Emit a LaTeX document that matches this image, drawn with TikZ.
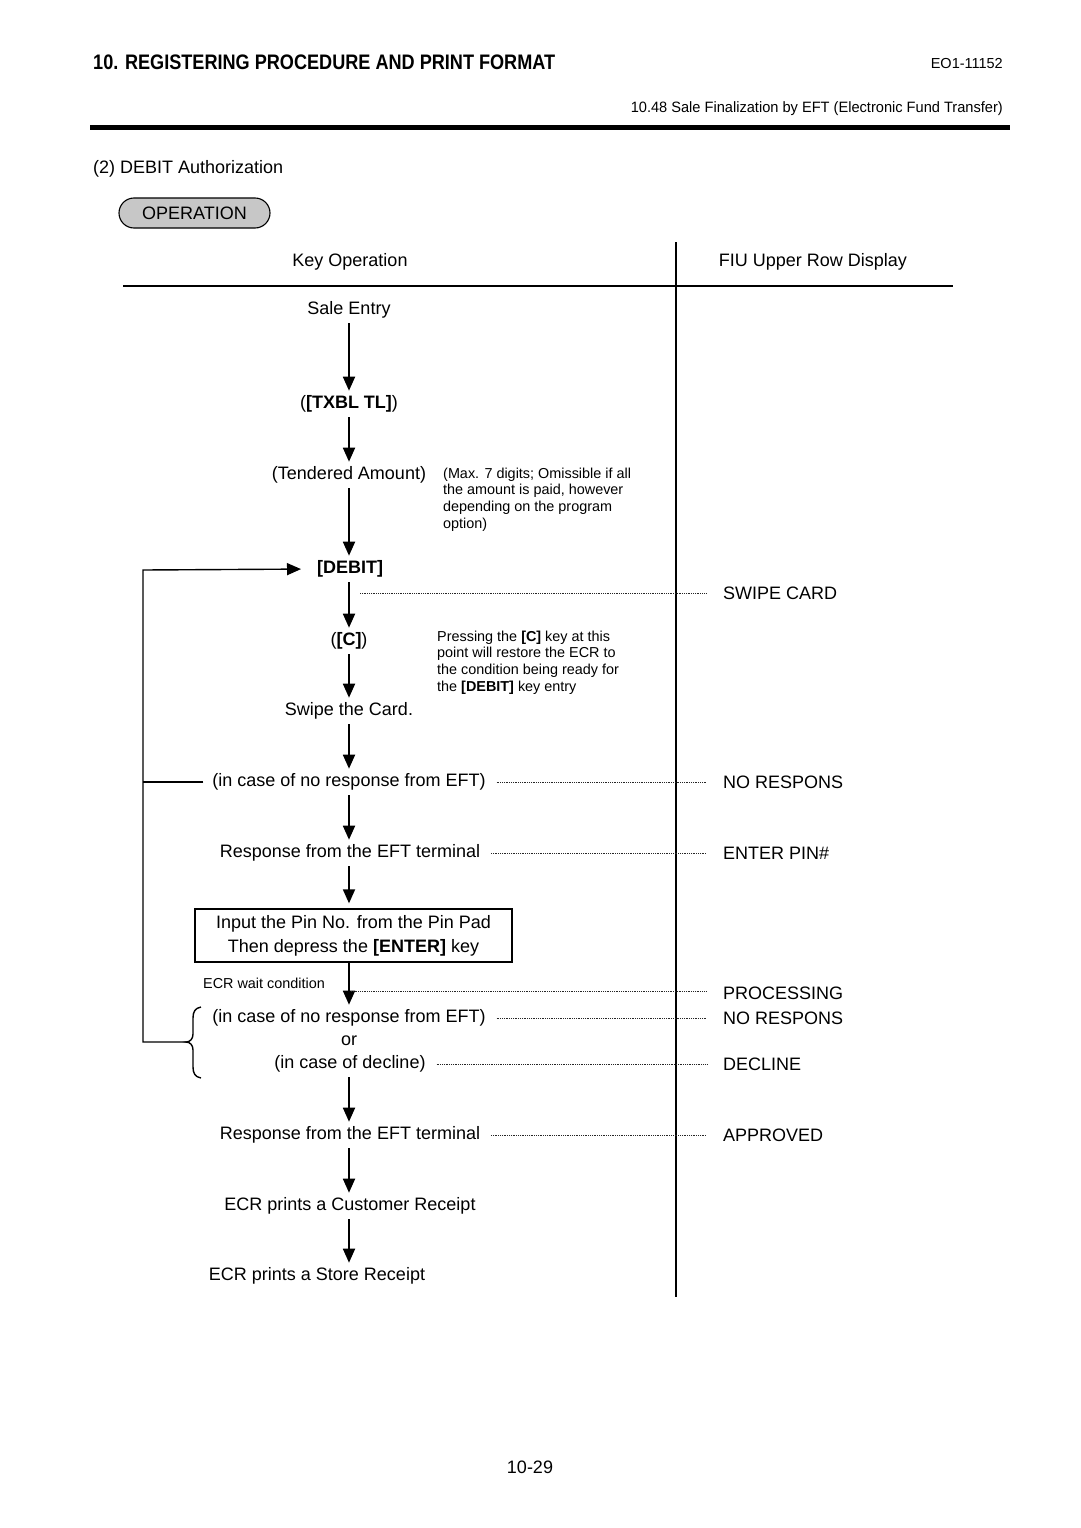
\documentclass[tikz,border=0pt]{standalone}
\usepackage{fontspec}
\setmainfont{Liberation Sans}
\usetikzlibrary{arrows.meta}
\begin{document}
\begin{tikzpicture}[x=1pt,y=-1pt,
  big/.style={font=\fontsize{18}{21.6}\selectfont},
  small/.style={font=\fontsize{14.4}{16.7}\selectfont},
  ktext/.style={big, text height=12.8pt, text depth=3.8pt, inner xsep=3pt, inner ysep=5pt, outer sep=0pt},
  lbl/.style={big, anchor=west, inner xsep=4pt, inner ysep=2pt},
  note/.style={small, anchor=north west, align=left, inner sep=0pt},
  arr/.style={line width=1.8pt, -{Triangle[width=12pt,length=14pt]}},
  dot/.style={line width=0.7pt, black!85, dash pattern=on 0.9pt off 0.9pt, shorten <=8pt, shorten >=12pt},
  rule/.style={line width=1.8pt}]
\useasboundingbox (0,0) rectangle (1080,1528);

% header
\node[anchor=base west, inner sep=0pt] (hdr) at (93,69.5)
  {\resizebox{462pt}{\height}{\bfseries\fontsize{21}{25}\selectfont 10. REGISTERING PROCEDURE AND PRINT FORMAT}};
\node[anchor=base east, inner sep=0pt, font=\fontsize{14.5}{17}\selectfont] (doc) at (1003,68) {EO1-11152};
\node[anchor=base east, inner sep=0pt] (sub) at (1003,112)
  {\resizebox{372pt}{\height}{\fontsize{15}{18}\selectfont 10.48 Sale Finalization by EFT (Electronic Fund Transfer)}};
\coordinate (r1) at (90,127);
\coordinate (r2) at (1010,127);
\draw[line width=5pt] (r1) -- (r2);

\node[big, anchor=base west, inner sep=0pt] (title) at (93,173.5) {(2) DEBIT Authorization};
\node[big, draw, line width=1.1pt, fill=black!22, rounded corners=15pt, minimum width=151pt, minimum height=30pt, inner sep=0pt] (op) at (194.5,213) {OPERATION};

% table frame
\node[big] (kop) at (350,262) {Key Operation};
\node[big] (fiu) at (813,262) {FIU Upper Row Display};
\coordinate (v1) at (676,242);
\coordinate (v2) at (676,1297);
\coordinate (h1) at (123,286);
\coordinate (h2) at (953,286);
\draw[rule] (v1) -- (v2);
\draw[rule] (h1) -- (h2);

% main flow
\node[ktext] (sale) at (349,310) {Sale Entry};
\node[ktext] (txbl) at (349,404) {(\textbf{[TXBL TL]})};
\node[ktext] (tend) at (349,475) {(Tendered Amount)};
\node[ktext] (debit) at (350,569) {\textbf{[DEBIT]}};
\node[ktext] (ckey) at (349,641) {(\textbf{[C]})};
\node[ktext] (swipe) at (349,711) {Swipe the Card.};
\node[ktext] (nr1) at (349,782) {(in case of no response from EFT)};
\node[ktext] (resp1) at (350,853) {Response from the EFT terminal};
\node[big, draw, line width=1.3pt, minimum width=317pt, minimum height=53pt, align=center, inner sep=0pt] (pin) at (353.5,935.5)
  {Input the Pin No. from the Pin Pad\\[2.4pt]Then depress the \textbf{[ENTER]} key};
\node[ktext] (nr2) at (349,1018) {(in case of no response from EFT)};
\node[ktext] (or) at (349,1041) {or};
\node[ktext] (decl) at (350,1064) {(in case of decline)};
\node[ktext] (resp2) at (350,1135) {Response from the EFT terminal};
\node[ktext] (cust) at (350,1206) {ECR prints a Customer Receipt};
\node[ktext] (store) at (317,1276) {ECR prints a Store Receipt};

\draw[arr] (sale.south) -- (sale.south |- txbl.north);
\draw[arr] (txbl.south) -- (txbl.south |- tend.north);
\draw[arr] (tend.south) -- (tend.south |- debit.north);
\draw[arr] (debit.south -| tend.south) -- (tend.south |- ckey.north);
\draw[arr] (ckey.south) -- (ckey.south |- swipe.north);
\draw[arr] (swipe.south) -- (swipe.south |- nr1.north);
\draw[arr] (nr1.south) -- (nr1.south |- resp1.north);
\draw[arr, shorten >=5pt] (resp1.south -| nr1.south) -- (nr1.south |- pin.north);
\draw[arr] (pin.south -| nr1.south) -- (nr1.south |- nr2.north);
\draw[arr] (decl.south -| nr1.south) -- (nr1.south |- resp2.north);
\draw[arr] (resp2.south -| nr1.south) -- (nr1.south |- cust.north);
\draw[arr] (cust.south -| nr1.south) -- (nr1.south |- store.north);

% notes
\node[note] (n1) at (443,467.5) {(Max. 7 digits; Omissible if all\\the amount is paid, however\\depending on the program\\option)};
\node[note] (n2) at (437,630.5) {Pressing the \textbf{[C]} key at this\\point will restore the ECR to\\the condition being ready for\\the \textbf{[DEBIT]} key entry};
\node[small, anchor=base west, inner sep=0pt] (wait) at (203,988.5) {ECR wait condition};

% display labels
\node[lbl] (lsw) at (719,593) {SWIPE CARD};
\node[lbl] (lnr1) at (719,782) {NO RESPONS};
\node[lbl] (lpin) at (719,853) {ENTER PIN\#};
\node[lbl] (lproc) at (719,993) {PROCESSING};
\node[lbl] (lnr2) at (719,1018) {NO RESPONS};
\node[lbl] (ldec) at (719,1064) {DECLINE};
\node[lbl] (lapp) at (719,1135) {APPROVED};

\coordinate (d1) at (348,593);
\coordinate (d2) at (348,991);
\draw[dot, shorten <=12pt] (d1) -- (d1 -| lsw.west);
\draw[dot] (nr1.east) -- (nr1.east -| lnr1.west);
\draw[dot] (resp1.east) -- (resp1.east -| lpin.west);
\draw[dot, shorten <=3pt] (d2) -- (d2 -| lproc.west);
\draw[dot] (nr2.east) -- (nr2.east -| lnr2.west);
\draw[dot] (decl.east) -- (decl.east -| ldec.west);
\draw[dot] (resp2.east) -- (resp2.east -| lapp.west);

% feedback loop
\coordinate (lc) at (143,570);
\coordinate (bt) at (186,1042);
\draw[line width=1.4pt, shorten <=6pt] (nr1.west) -- (nr1.west -| lc);
\draw[line width=1.4pt] (201,1007) .. controls (195,1008) and (193,1012) .. (193,1018) -- (193,1034)
  .. controls (193,1039) and (190,1042) .. (bt)
  .. controls (190,1042) and (193,1045) .. (193,1050) -- (193,1067)
  .. controls (193,1073) and (195,1077) .. (201,1078);
\draw[line width=1.4pt, -{Triangle[width=12pt,length=14pt]}, shorten >=13pt] (bt) -| (lc) -- (debit.west);

% page number
\node[big] (pg) at (530,1467) {10-29};
\end{tikzpicture}
\end{document}
